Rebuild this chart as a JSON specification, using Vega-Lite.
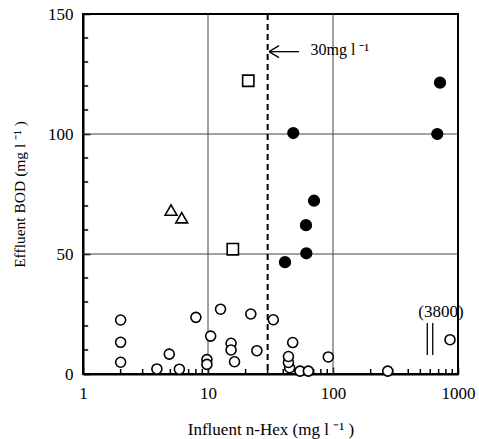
{
  "$schema": "https://vega.github.io/schema/vega-lite/v6.json",
  "width": 375,
  "height": 360,
  "autosize": "none",
  "padding": {"left": 83, "top": 14, "right": 21, "bottom": 65},
  "config": {
    "font": "Liberation Serif",
    "view": {"stroke": "black", "strokeWidth": 2},
    "axis": {
      "labelFont": "Liberation Serif",
      "titleFont": "Liberation Serif",
      "labelColor": "black",
      "titleColor": "black",
      "labelFontSize": 17,
      "titleFontWeight": "normal",
      "domainColor": "black",
      "domainWidth": 2,
      "tickColor": "black",
      "tickWidth": 1.5,
      "grid": false
    }
  },
  "datasets": {
    "pts": [
      {"x": 2, "y": 22.5, "g": "open"},
      {"x": 2, "y": 13.2, "g": "open"},
      {"x": 2, "y": 4.9, "g": "open"},
      {"x": 3.9, "y": 2.1, "g": "open"},
      {"x": 4.9, "y": 8.3, "g": "open"},
      {"x": 5.9, "y": 2, "g": "open"},
      {"x": 8, "y": 23.6, "g": "open"},
      {"x": 10.5, "y": 15.8, "g": "open"},
      {"x": 9.8, "y": 6, "g": "open"},
      {"x": 9.8, "y": 4, "g": "open"},
      {"x": 12.6, "y": 27, "g": "open"},
      {"x": 15.3, "y": 12.8, "g": "open"},
      {"x": 15.3, "y": 10, "g": "open"},
      {"x": 16.3, "y": 5.1, "g": "open"},
      {"x": 22, "y": 25, "g": "open"},
      {"x": 24.6, "y": 9.7, "g": "open"},
      {"x": 33.3, "y": 22.6, "g": "open"},
      {"x": 47.6, "y": 13.1, "g": "open"},
      {"x": 45, "y": 2.6, "g": "open"},
      {"x": 44, "y": 4.8, "g": "open"},
      {"x": 44, "y": 7.3, "g": "open"},
      {"x": 54.4, "y": 1.2, "g": "open"},
      {"x": 63.5, "y": 1.2, "g": "open"},
      {"x": 91.7, "y": 7.1, "g": "open"},
      {"x": 274, "y": 1.2, "g": "open"},
      {"x": 863, "y": 14.3, "g": "open"},
      {"x": 48.1, "y": 100.4, "g": "filled"},
      {"x": 41.3, "y": 46.6, "g": "filled"},
      {"x": 61.2, "y": 50.3, "g": "filled"},
      {"x": 60.8, "y": 62, "g": "filled"},
      {"x": 70.5, "y": 72.2, "g": "filled"},
      {"x": 683, "y": 100, "g": "filled"},
      {"x": 718, "y": 121.4, "g": "filled"},
      {"x": 15.8, "y": 52, "g": "square"},
      {"x": 21, "y": 122.2, "g": "square"},
      {"x": 5.06, "y": 68.3, "g": "triangle"},
      {"x": 6.16, "y": 65.1, "g": "triangle"}
    ],
    "segs": [
      {"x": 30.8, "x2": 53.5, "y": 134.3, "y2": 134.3},
      {"x": 30.8, "x2": 37, "y": 134.3, "y2": 136.8},
      {"x": 30.8, "x2": 37, "y": 134.3, "y2": 131.8},
      {"x": 568, "x2": 568, "y": 21.2, "y2": 7.9},
      {"x": 628, "x2": 628, "y": 21.2, "y2": 7.9}
    ],
    "vgrid": [{"x": 10}, {"x": 100}],
    "hgrid": [{"y": 50}, {"y": 100}],
    "xminor": [{"x": 2}, {"x": 3}, {"x": 4}, {"x": 5}, {"x": 6}, {"x": 7}, {"x": 8}, {"x": 9}, {"x": 20}, {"x": 30}, {"x": 40}, {"x": 50}, {"x": 60}, {"x": 70}, {"x": 80}, {"x": 90}, {"x": 200}, {"x": 300}, {"x": 400}, {"x": 500}, {"x": 600}, {"x": 700}, {"x": 800}, {"x": 900}],
    "yminor": [{"y": 10}, {"y": 20}, {"y": 30}, {"y": 40}, {"y": 60}, {"y": 70}, {"y": 80}, {"y": 90}, {"y": 110}, {"y": 120}, {"y": 130}, {"y": 140}]
  },
  "layer": [
    {
      "data": {"name": "vgrid"},
      "mark": {"type": "rule", "color": "#444", "strokeWidth": 1},
      "encoding": {
        "x": {
          "field": "x", "type": "quantitative",
          "scale": {"type": "log", "domain": [1, 1000], "nice": false},
          "axis": {"values": [1, 10, 100, 1000], "tickSize": -7, "labelPadding": 18, "labelFlush": false, "labelOverlap": false, "format": "d", "title": "Influent  n-Hex  (mg  l ⁻¹  )", "titleFontSize": 17, "titlePadding": 20}
        }
      }
    },
    {
      "data": {"name": "hgrid"},
      "mark": {"type": "rule", "color": "#444", "strokeWidth": 1},
      "encoding": {
        "y": {
          "field": "y", "type": "quantitative",
          "scale": {"domain": [0, 150], "nice": false},
          "axis": {"values": [0, 50, 100, 150], "tickSize": -7, "labelPadding": 17, "labelOverlap": false, "labelFlush": false, "format": "d", "title": "Effluent BOD (mg l ⁻¹  )", "titleFontSize": 15.5, "titlePadding": 20}
        }
      }
    },
    {
      "data": {"name": "xminor"},
      "mark": {"type": "rule", "color": "black", "strokeWidth": 1.5},
      "encoding": {
        "x": {"field": "x", "type": "quantitative"},
        "y": {"datum": 0},
        "y2": {"datum": 2.1}
      }
    },
    {
      "data": {"name": "yminor"},
      "mark": {"type": "rule", "color": "black", "strokeWidth": 1.5},
      "encoding": {
        "y": {"field": "y", "type": "quantitative"},
        "x": {"datum": 1},
        "x2": {"datum": 1.1}
      }
    },
    {
      "data": {"values": [{"x": 30}]},
      "mark": {"type": "rule", "strokeDash": [6, 4], "strokeWidth": 2, "color": "black"},
      "encoding": {"x": {"field": "x", "type": "quantitative"}}
    },
    {
      "data": {"name": "segs"},
      "mark": {"type": "rule", "strokeWidth": 1.3, "color": "black"},
      "encoding": {
        "x": {"field": "x", "type": "quantitative"},
        "x2": {"field": "x2"},
        "y": {"field": "y", "type": "quantitative"},
        "y2": {"field": "y2"}
      }
    },
    {
      "data": {"values": [{"x": 66, "y": 135, "t": "30mg l ⁻¹"}]},
      "mark": {"type": "text", "fontSize": 16, "font": "Liberation Serif", "color": "black", "align": "left"},
      "encoding": {
        "x": {"field": "x", "type": "quantitative"},
        "y": {"field": "y", "type": "quantitative"},
        "text": {"field": "t"}
      }
    },
    {
      "data": {"values": [{"x": 731, "y": 26, "t": "(3800)"}]},
      "mark": {"type": "text", "fontSize": 17, "font": "Liberation Serif", "color": "black", "align": "center"},
      "encoding": {
        "x": {"field": "x", "type": "quantitative"},
        "y": {"field": "y", "type": "quantitative"},
        "text": {"field": "t"}
      }
    },
    {
      "data": {"name": "pts"},
      "mark": {"type": "point", "filled": true, "stroke": "black", "strokeWidth": 1.6, "opacity": 1},
      "encoding": {
        "x": {"field": "x", "type": "quantitative"},
        "y": {"field": "y", "type": "quantitative"},
        "shape": {"field": "g", "type": "nominal", "scale": {"domain": ["open", "filled", "square", "triangle"], "range": ["circle", "circle", "square", "triangle-up"]}, "legend": null},
        "fill": {"field": "g", "type": "nominal", "scale": {"domain": ["open", "filled", "square", "triangle"], "range": ["white", "black", "white", "white"]}, "legend": null},
        "size": {"field": "g", "type": "nominal", "scale": {"domain": ["open", "filled", "square", "triangle"], "range": [100, 140, 100, 120]}, "legend": null}
      }
    }
  ]
}
